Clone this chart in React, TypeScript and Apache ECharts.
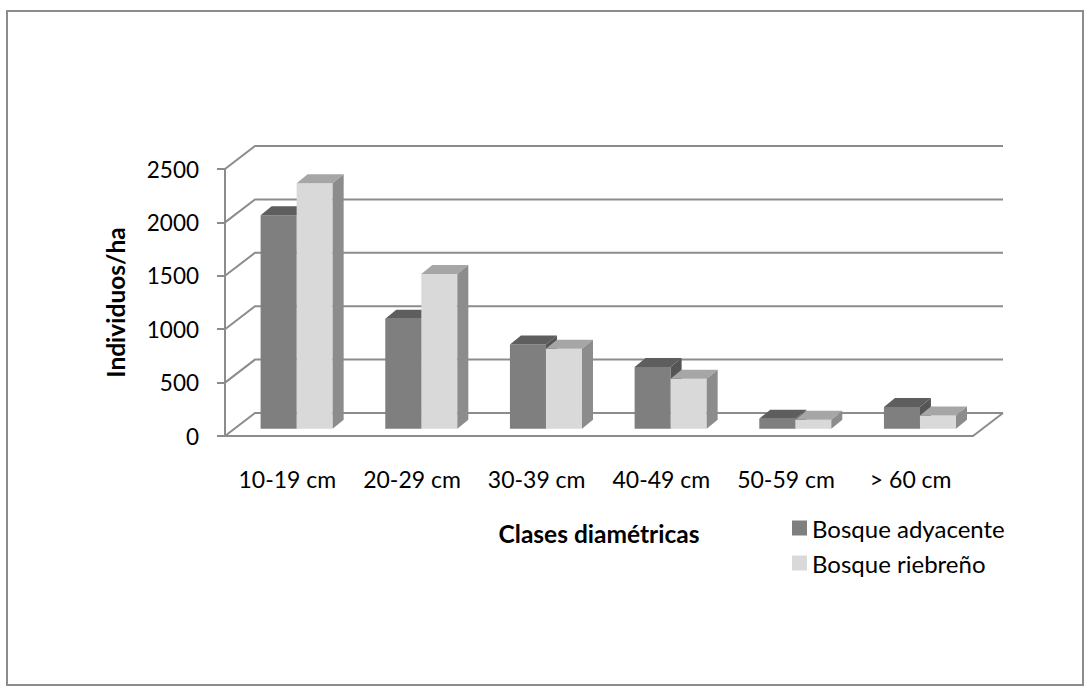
import React, { useEffect, useRef } from "react";
import * as echarts from "echarts";

// Diameter classes and stand density (individuals per hectare)
const categories = ["10-19 cm", "20-29 cm", "30-39 cm", "40-49 cm", "50-59 cm", "> 60 cm"];
const bosqueAdyacente = [2000, 1030, 790, 580, 95, 205];
const bosqueRiebreno = [2300, 1450, 750, 470, 85, 125];
const yTicks = [0, 500, 1000, 1500, 2000, 2500];

const seriesNames = ["Bosque adyacente", "Bosque riebreño"];

// Pseudo-3D geometry (pixels / fractions)
const WALL = [30, -23]; // depth of the plot box (front plane -> back wall)
const BAR_FRONT = 0.31; // where the bar fronts sit within that depth
const BAR_DEPTH = [11, -9]; // depth of each column
const BAR_FRAC = 0.289; // column width as a share of the category band

const GRID_COLOR = "#8c8c8c";
const FONT = "Lato, 'Noto Sans', sans-serif";

type Faces = { front: string; top: string; side: string };

const darkFaces: Faces = { front: "#7f7f7f", top: "#5e5e5e", side: "#555555" };
const lightFaces: Faces = { front: "#d9d9d9", top: "#a6a6a6", side: "#8c8c8c" };

function columnRenderer(slot: number, faces: Faces) {
  return (params: any, api: any) => {
    const i = api.value(0);
    const v = api.value(1);
    const band = api.size([1, 0])[0];
    const base = api.coord([i, 0]);
    const top = api.coord([i, v]);
    const w = band * BAR_FRAC;
    const ox = WALL[0] * BAR_FRONT;
    const oy = WALL[1] * BAR_FRONT;
    const x0 = base[0] + ox + slot * w;
    const x1 = x0 + w;
    const yb = base[1] + oy;
    const yt = top[1] + oy;
    const [dx, dy] = BAR_DEPTH;
    return {
      type: "group",
      children: [
        {
          type: "polygon",
          shape: { points: [[x0, yb], [x1, yb], [x1, yt], [x0, yt]] },
          style: { fill: faces.front },
        },
        {
          type: "polygon",
          shape: { points: [[x0, yt], [x1, yt], [x1 + dx, yt + dy], [x0 + dx, yt + dy]] },
          style: { fill: faces.top },
        },
        {
          type: "polygon",
          shape: { points: [[x1, yb], [x1 + dx, yb + dy], [x1 + dx, yt + dy], [x1, yt]] },
          style: { fill: faces.side },
        },
      ],
    };
  };
}

// Side-wall diagonals, back-wall gridlines and floor outline
function wallRenderer(params: any, api: any) {
  const v = api.value(1);
  const cs = params.coordSys;
  const y = api.coord([0, v])[1];
  const xl = cs.x;
  const xr = cs.x + cs.width;
  const children: any[] = [
    {
      type: "polyline",
      shape: {
        points: [
          [xl, y],
          [xl + WALL[0], y + WALL[1]],
          [xr + WALL[0], y + WALL[1]],
        ],
      },
      style: { stroke: GRID_COLOR, lineWidth: 2, fill: "none" },
    },
  ];
  if (v === 0) {
    children.push({
      type: "line",
      shape: { x1: xr, y1: y, x2: xr + WALL[0], y2: y + WALL[1] },
      style: { stroke: GRID_COLOR, lineWidth: 2 },
    });
  }
  return { type: "group", children };
}

export default function App() {
  const ref = useRef<HTMLDivElement>(null);

  useEffect(() => {
    if (!ref.current) return;
    const chart = echarts.init(ref.current, null, { renderer: "svg" });
    chart.setOption({
      animation: false,
      backgroundColor: "#ffffff",
      textStyle: { fontFamily: FONT },
      graphic: [
        {
          type: "rect",
          shape: { x: 7, y: 11, width: 1076, height: 674 },
          style: { fill: "none", stroke: GRID_COLOR, lineWidth: 2 },
          silent: true,
        },
      ],
      grid: { left: 225, top: 169, width: 748, height: 267, containLabel: false },
      legend: {
        orient: "vertical",
        left: 787,
        top: 511,
        itemWidth: 15,
        itemHeight: 15,
        itemGap: 11,
        icon: "rect",
        data: seriesNames,
        textStyle: { fontFamily: FONT, fontSize: 24, color: "#000" },
      },
      xAxis: {
        type: "category",
        data: categories,
        name: "Clases diamétricas",
        nameLocation: "middle",
        nameGap: 85,
        nameTextStyle: { fontFamily: FONT, fontSize: 24.5, fontWeight: "bold", color: "#000" },
        axisLine: { show: true, lineStyle: { color: GRID_COLOR, width: 2 } },
        axisTick: { show: false },
        axisLabel: { fontFamily: FONT, fontSize: 23, color: "#000", margin: 31, interval: 0 },
        splitLine: { show: false },
      },
      yAxis: {
        type: "value",
        min: 0,
        max: 2500,
        interval: 500,
        name: "Individuos/ha",
        nameLocation: "middle",
        nameGap: 97,
        nameTextStyle: { fontFamily: FONT, fontSize: 24.5, fontWeight: "bold", color: "#000" },
        axisLine: { show: true, lineStyle: { color: GRID_COLOR, width: 2 } },
        axisTick: { show: true, inside: false, length: 8, lineStyle: { color: GRID_COLOR, width: 2 } },
        axisLabel: {
          fontFamily: FONT,
          fontSize: 22.5,
          color: "#000",
          margin: 26,
          formatter: (v: number) => String(v),
        },
        splitLine: { show: false },
      },
      series: [
        {
          type: "custom",
          name: "walls",
          silent: true,
          renderItem: wallRenderer,
          data: yTicks.map((v) => [0, v]),
          z: 1,
        },
        {
          type: "custom",
          name: seriesNames[0],
          itemStyle: { color: darkFaces.front },
          renderItem: columnRenderer(-1, darkFaces),
          data: bosqueAdyacente.map((v, i) => [i, v]),
          z: 2,
        },
        {
          type: "custom",
          name: seriesNames[1],
          itemStyle: { color: lightFaces.front },
          renderItem: columnRenderer(0, lightFaces),
          data: bosqueRiebreno.map((v, i) => [i, v]),
          z: 3,
        },
      ],
    });
    return () => chart.dispose();
  }, []);

  return (
    <div
      ref={ref}
      style={{ position: "fixed", left: 0, top: 0, width: 1090, height: 687 }}
    />
  );
}
